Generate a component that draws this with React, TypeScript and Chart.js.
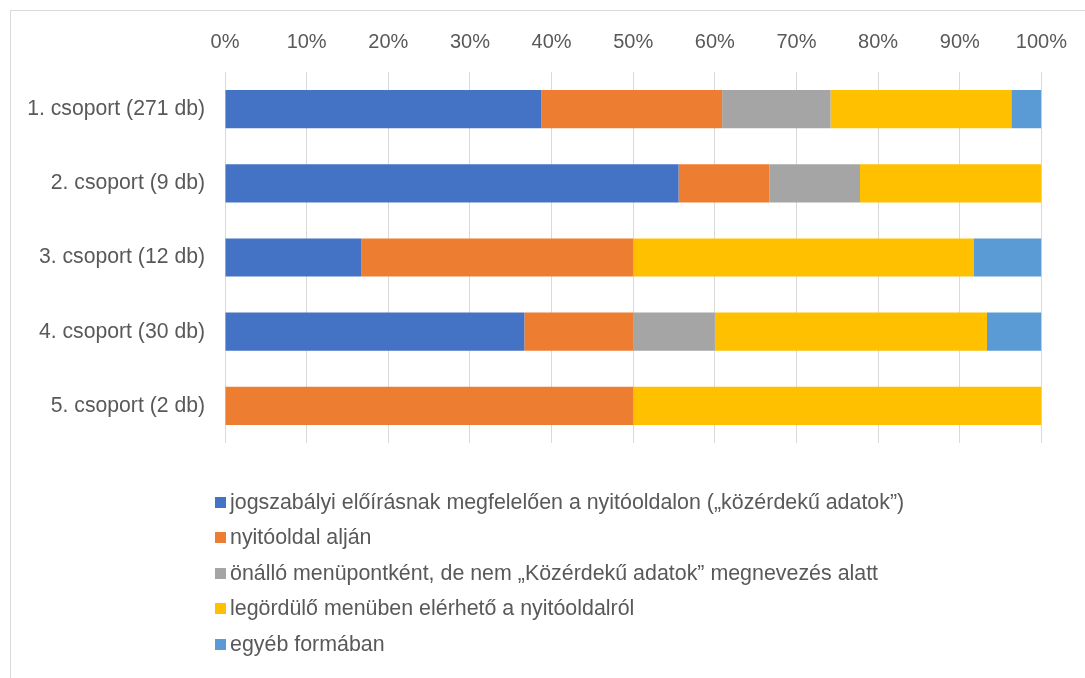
import React, { useEffect, useRef } from "react";
import { Chart, registerables } from "chart.js";

Chart.register(...registerables);

const categories = [
  "1. csoport (271 db)",
  "2. csoport (9 db)",
  "3. csoport (12 db)",
  "4. csoport (30 db)",
  "5. csoport (2 db)",
];

const seriesNames = [
  "jogszabályi előírásnak megfelelően a nyitóoldalon („közérdekű adatok”)",
  "nyitóoldal alján",
  "önálló menüpontként, de nem „Közérdekű adatok” megnevezés alatt",
  "legördülő menüben elérhető a nyitóoldalról",
  "egyéb formában",
];

const seriesColors = ["#4472C4", "#ED7D31", "#A5A5A5", "#FFC000", "#5B9BD5"];

// percentages
const jogszabalyiValues = [38.75, 55.56, 16.67, 36.67, 0];
const aljanValues = [22.14, 11.11, 33.33, 13.33, 50];
const onalloValues = [13.28, 11.11, 0, 10.0, 0];
const legordoloValues = [22.14, 22.22, 41.67, 33.33, 50];
const egyebValues = [3.69, 0, 8.33, 6.67, 0];

const xTickLabels = ["0%", "10%", "20%", "30%", "40%", "50%", "60%", "70%", "80%", "90%", "100%"];

const TEXT = "#595959";
const FONT = "'Liberation Sans', Arial, sans-serif";

export default function App() {
  const ref = useRef<HTMLCanvasElement>(null);

  useEffect(() => {
    const allValues = [jogszabalyiValues, aljanValues, onalloValues, legordoloValues, egyebValues];
    const chart = new Chart(ref.current!, {
      type: "bar",
      data: {
        labels: categories,
        datasets: allValues.map((vals, i) => ({
          label: seriesNames[i],
          data: vals,
          backgroundColor: seriesColors[i],
          borderWidth: 0,
          barPercentage: 0.515,
          categoryPercentage: 1,
        })),
      },
      options: {
        indexAxis: "y",
        animation: false,
        responsive: false,
        maintainAspectRatio: false,
        layout: { padding: { left: 0, right: 42, top: 0, bottom: 235 } },
        plugins: { legend: { display: false }, tooltip: { enabled: false } },
        scales: {
          x: {
            position: "top",
            stacked: true,
            min: 0,
            max: 100,
            ticks: {
              stepSize: 10,
              callback: (_v: any, i: number) => xTickLabels[i],
              color: TEXT,
              font: { family: FONT, size: 20 },
              padding: 18,
              maxRotation: 0,
            },
            grid: { color: "#D9D9D9", lineWidth: 1, drawTicks: false },
            border: { display: false },
            afterFit: (s: any) => {
              s.height = 72;
            },
          },
          y: {
            stacked: true,
            grid: { display: false, drawTicks: false },
            border: { display: false },
            ticks: {
              color: TEXT,
              font: { family: FONT, size: 21.2 },
              padding: 20,
            },
            afterFit: (s: any) => {
              s.width = 225;
            },
          },
        },
      },
    });
    return () => chart.destroy();
  }, []);

  return (
    <div style={{ position: "absolute", left: 0, top: 0, width: 1085, height: 678, overflow: "hidden", background: "#fff" }}>
      <div
        style={{
          position: "absolute",
          left: 10,
          top: 10,
          width: 1100,
          height: 700,
          border: "1px solid #D9D9D9",
          boxSizing: "border-box",
        }}
      />
      <canvas ref={ref} width={1085} height={678} style={{ position: "absolute", left: 0, top: 0, width: 1085, height: 678 }} />
      <div style={{ position: "absolute", left: 215, top: 484.5, fontFamily: FONT, fontSize: 21.4, color: TEXT }}>
        {seriesNames.map((name, i) => (
          <div key={name} style={{ display: "flex", alignItems: "center", height: 35.5, whiteSpace: "nowrap" }}>
            <span style={{ display: "inline-block", width: 11, height: 11, background: seriesColors[i], marginRight: 4 }} />
            <span>{name}</span>
          </div>
        ))}
      </div>
    </div>
  );
}
